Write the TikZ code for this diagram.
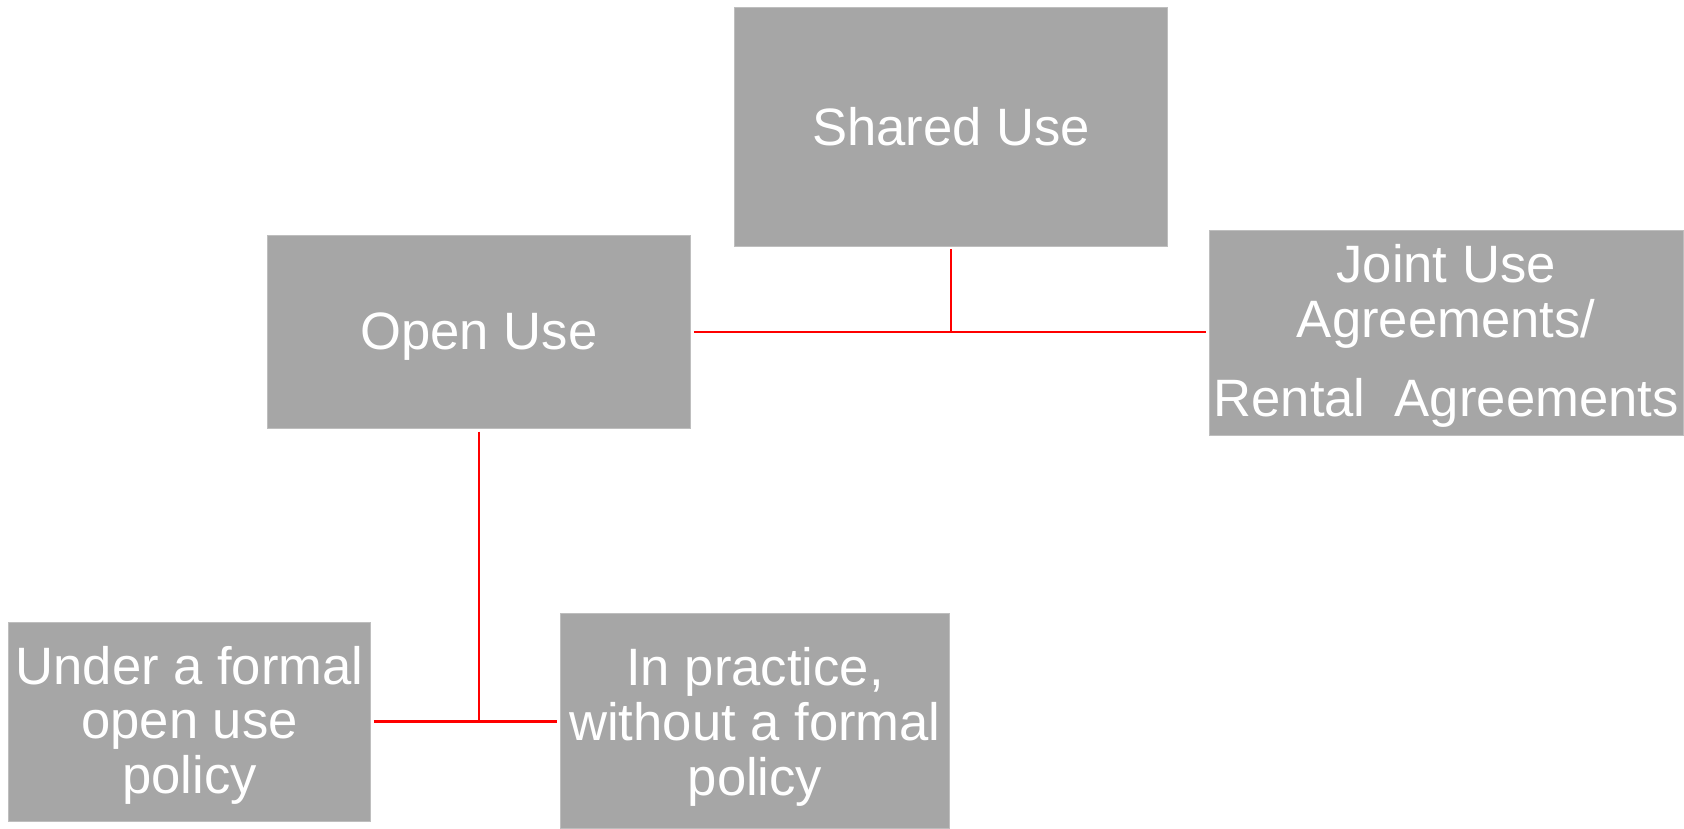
\documentclass[tikz,border=0pt]{standalone}
\usepackage{fontspec}
\setmainfont{Liberation Sans}
\definecolor{boxgray}{RGB}{166,166,166}
\definecolor{edgegray}{RGB}{190,190,190}
\definecolor{linkred}{RGB}{255,0,0}
\newcommand{\topstrut}[1]{\rule{0pt}{#1}}
\tikzset{
  gbox/.style={rectangle, fill=boxgray, draw=edgegray, line width=0.6pt,
    inner sep=0pt, outer sep=3pt, text=white, align=center,
    font=\fontsize{49}{51}\selectfont},
  link/.style={draw=linkred, line width=2.4pt}
}
\begin{document}
\begin{tikzpicture}[x=1pt, y=-1pt]
\useasboundingbox (0,0) rectangle (1568,771);
\node[gbox, minimum width=403pt, minimum height=222pt] (shared) at (885.5,118) {Shared Use};
\node[gbox, minimum width=394pt, minimum height=180pt, text height=43pt] (open) at (446,309) {Open Use};
\node[gbox, minimum width=441pt, minimum height=191pt] (joint) at (1346.5,309.5)
  {\topstrut{42pt}Joint Use\\Agreements/\\[22pt]Rental~~Agreements};
\node[gbox, minimum width=337pt, minimum height=186pt] (under) at (176.5,672)
  {\topstrut{42pt}Under a formal\\open use\\policy};
\node[gbox, minimum width=362pt, minimum height=200pt] (practice) at (703,671)
  {\topstrut{47pt}In practice,\\without a formal\\policy};
\coordinate (hub) at (shared.south |- open.east);
\coordinate (foot) at (open.south |- under.east);
\draw[link] (shared.south) -- (hub);
\draw[link] (open.east) -- (hub) -- (open.east -| joint.west);
\draw[link] (open.south) -- (foot);
\draw[link] (under.east) -- (foot) -- (under.east -| practice.west);
\end{tikzpicture}
\end{document}
